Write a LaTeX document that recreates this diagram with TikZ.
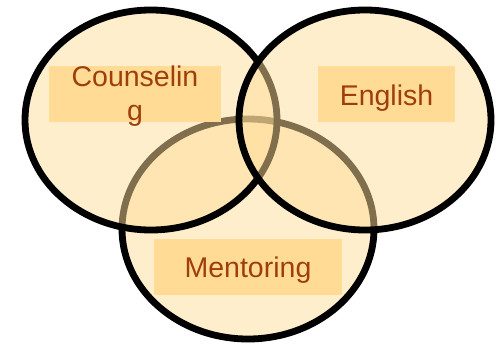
\documentclass[tikz,border=0pt]{standalone}
\usepackage{fontspec}
\setmainfont{Liberation Sans}
\definecolor{vfill}{HTML}{FFDD99}
\definecolor{vbox}{HTML}{FFDB96}
\definecolor{vtext}{HTML}{9E3F0B}
\tikzset{
  venn/.style={draw=black, line width=6.8pt, fill=vfill, fill opacity=0.5, draw opacity=1, ellipse, minimum width=252pt, minimum height=220pt, inner sep=0pt},
  labelbox/.style={fill=vbox, draw=none, inner sep=0pt, rectangle},
  labeltext/.style={text=vtext, font=\fontsize{28.5}{33.5}\selectfont, align=center, inner sep=0pt}
}
\usetikzlibrary{shapes.geometric}
\begin{document}
\begin{tikzpicture}[x=1pt,y=-1pt]
\useasboundingbox (0,0) rectangle (500,343);
\node[venn] (mentoring) at (248,229) {};
\node[venn] (counseling) at (151,120) {};
\node[venn] (english) at (365,120) {};
\node[labelbox, minimum width=172pt, minimum height=56pt] (cbox) at (135,94) {};
\node[labelbox, minimum width=137pt, minimum height=56pt] (ebox) at (386.5,94) {};
\node[labelbox, minimum width=188pt, minimum height=56pt] (mbox) at (248,267) {};
\node[labeltext, anchor=base] (ctext) at (135,120.2) {Counselin\\g};
\node[labeltext, anchor=base] (etext) at (386.5,105) {English};
\node[labeltext, anchor=base] (mtext) at (248,277.3) {Mentoring};
\end{tikzpicture}
\end{document}
